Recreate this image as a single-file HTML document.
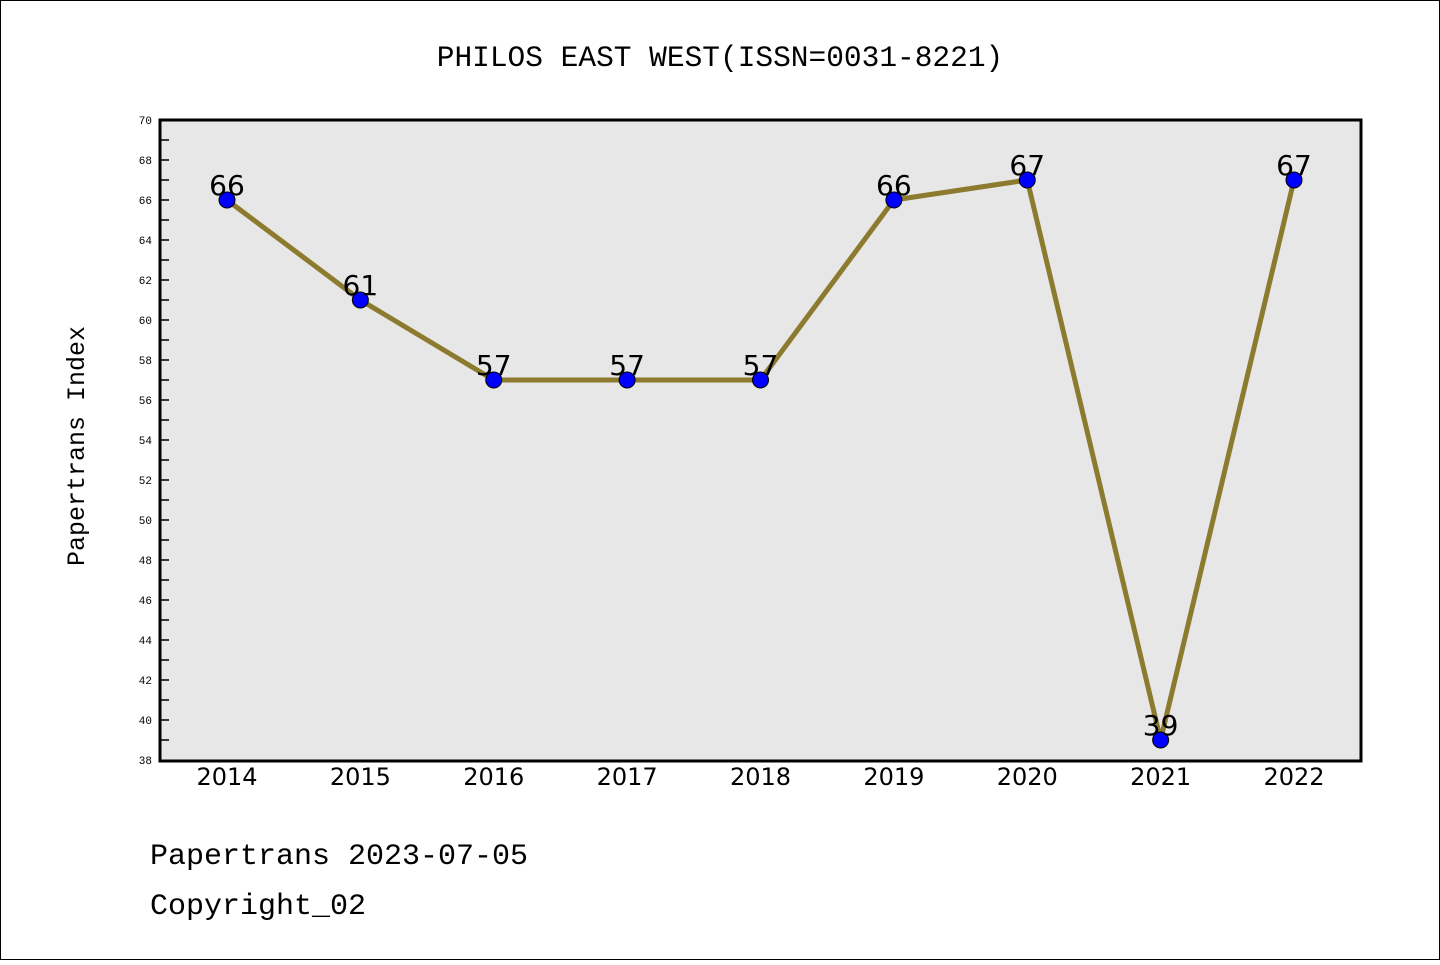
<!DOCTYPE html>
<html><head><meta charset="utf-8"><style>
body{margin:0;background:#fff}
svg text{font-family:"Liberation Mono","DejaVu Sans Mono",monospace}
</style></head><body>
<svg width="1440" height="960" xmlns="http://www.w3.org/2000/svg">
<rect x="0.5" y="0.5" width="1439" height="959" fill="#fff" stroke="#000"/>
<text x="720" y="66" font-size="29.5" text-anchor="middle">PHILOS EAST WEST(ISSN=0031-8221)</text>
<rect x="160" y="120" width="1201" height="641" fill="#e7e7e7" stroke="#000" stroke-width="3"/>
<g id="yaxis"></g>
<g id="xaxis"></g>
<g id="series"></g>
<text transform="translate(84,446) rotate(-90)" font-size="25" text-anchor="middle">Papertrans Index</text>
<text x="150" y="864" font-size="30">Papertrans 2023-07-05</text>
<text x="150" y="914" font-size="30">Copyright_02</text>
</svg>
<script>
const years=["2014","2015","2016","2017","2018","2019","2020","2021","2022"];
const values=[66,61,57,57,57,66,67,39,67];
const yMin=38,yMax=70;
const NS="http://www.w3.org/2000/svg";
function X(i){return 227+i*(1294-227)/(years.length-1);}
function Y(v){return 760-(v-yMin)*(640/(yMax-yMin));}
function mk(t,a,p){const e=document.createElementNS(NS,t);for(const k in a)e.setAttribute(k,a[k]);p.appendChild(e);return e;}
const ya=document.getElementById('yaxis');
for(let v=yMin;v<=yMax;v++){
  if(v>yMin&&v<yMax){const t=mk('line',{x1:160,x2:169,y1:Y(v),y2:Y(v),stroke:'#000','stroke-width':1.5},ya);
  
  }
  if(v%2===0){const l=mk('text',{x:152,y:Y(v)+4,'font-size':11,'text-anchor':'end'},ya);l.textContent=v;
  
  }
}
const xa=document.getElementById('xaxis');
years.forEach((y,i)=>{const l=mk('text',{x:X(i),y:785,'font-size':24,'text-anchor':'middle',style:'font-family:"DejaVu Sans",sans-serif'},xa);l.textContent=y;

});
const s=document.getElementById('series');
const pl=mk('polyline',{points:values.map((v,i)=>X(i)+','+Y(v)).join(' '),fill:'none',stroke:'#8c7a2e','stroke-width':5},s);


values.forEach((v,i)=>{
  const c=mk('circle',{cx:X(i),cy:Y(v),r:8,fill:'#0000ff',stroke:'#000','stroke-width':1},s);
  
  
  const t=mk('text',{x:X(i),y:Y(v)-5,'font-size':28,'text-anchor':'middle',style:'font-family:"DejaVu Sans",sans-serif'},s);t.textContent=v;
  
  
});
</script>
</body></html>
